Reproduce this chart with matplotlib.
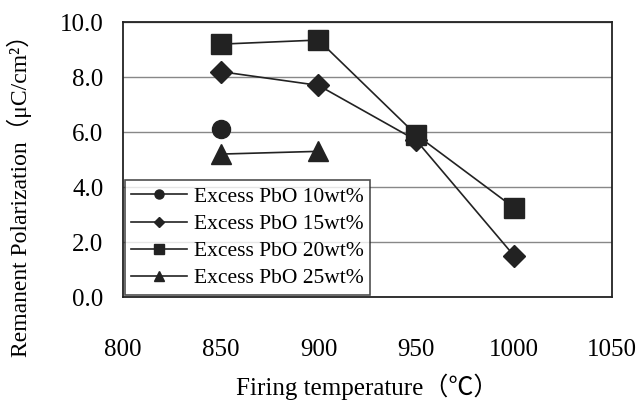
import matplotlib.pyplot as plt

plt.rcParams['font.family'] = ['Liberation Serif', 'Noto Sans CJK JP', 'DejaVu Sans']

temps_10 = [850]
pol_10 = [6.1]
temps_15 = [850, 900, 950, 1000]
pol_15 = [8.2, 7.7, 5.7, 1.5]
temps_20 = [850, 900, 950, 1000]
pol_20 = [9.2, 9.35, 5.9, 3.25]
temps_25 = [850, 900]
pol_25 = [5.2, 5.3]

fig = plt.figure(figsize=(6.4, 4.03), dpi=100)
ax = fig.add_axes([0.192, 0.263, 0.764, 0.682])

ink = '#222222'
ax.plot(temps_10, pol_10, '-o', color=ink, ms=13, lw=1.2, label='Excess PbO 10wt%')
ax.plot(temps_15, pol_15, '-D', color=ink, ms=11, lw=1.2, label='Excess PbO 15wt%')
ax.plot(temps_20, pol_20, '-s', color=ink, ms=14, lw=1.2, label='Excess PbO 20wt%')
ax.plot(temps_25, pol_25, '-^', color=ink, ms=15, lw=1.2, label='Excess PbO 25wt%')

ax.set_xlim(800, 1050)
ax.set_ylim(0, 10)
ax.set_xticks([800, 850, 900, 950, 1000, 1050])
ax.set_yticks([0, 2, 4, 6, 8, 10])
ax.set_yticklabels(['%.1f' % v for v in [0, 2, 4, 6, 8, 10]])
ax.yaxis.grid(True, color='#888888', lw=1)
ax.set_axisbelow(True)
ax.tick_params(axis='x', length=0, labelsize=18, pad=30)
ax.tick_params(axis='y', length=0, labelsize=18, pad=14)
for s in ax.spines.values():
    s.set_color(ink)
    s.set_linewidth(1.3)

ax.set_xlabel('Firing temperature（℃）', fontsize=18, labelpad=9)
ax.set_ylabel('Remanent Polarization（μC/cm²）', fontsize=17)
ax.yaxis.set_label_coords(-0.185, 0.39)

leg = ax.legend(loc='lower left', fontsize=15.5, frameon=True, fancybox=False,
                edgecolor=ink, markerscale=0.5, handlelength=2.6,
                borderaxespad=0.1, labelspacing=0.33, borderpad=0.3,
                handletextpad=0.3)
leg.get_frame().set_linewidth(1.2)

fig.savefig('out.png', dpi=100)
